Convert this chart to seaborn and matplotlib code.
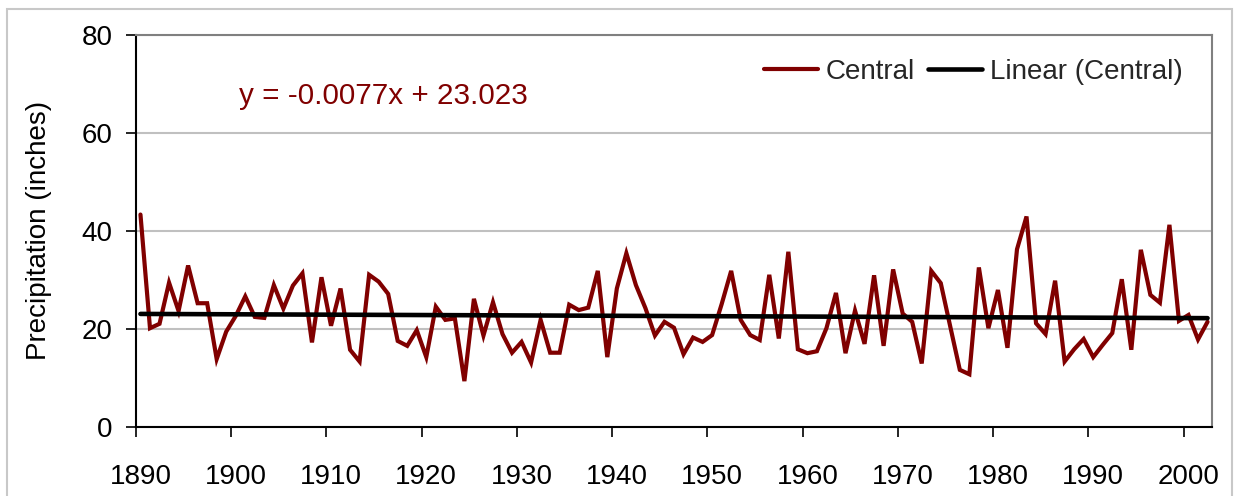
import numpy as np
import pandas as pd
import matplotlib
matplotlib.use("Agg")
import matplotlib.pyplot as plt
import seaborn as sns
from matplotlib.ticker import FixedLocator, NullFormatter, FixedFormatter
from matplotlib.patches import Rectangle

# ---------------- data ----------------
years = list(range(1890, 2003))
central = [
    43.3, 20.1, 21.0, 29.4, 23.6, 32.9, 25.2, 25.2, 13.8, 19.4,   # 1890s
    22.6, 26.6, 22.4, 22.2, 28.9, 24.1, 28.8, 31.3, 17.2, 30.5,   # 1900s
    20.6, 28.2, 15.7, 13.3, 31.0, 29.6, 27.1, 17.5, 16.5, 19.7,   # 1910s
    14.2, 24.5, 21.8, 22.1, 9.3, 26.1, 18.6, 25.4, 18.9, 15.1,    # 1920s
    17.3, 13.1, 21.8, 15.1, 15.1, 24.9, 23.8, 24.3, 31.8, 14.2,   # 1930s
    28.2, 35.4, 28.9, 24.2, 18.6, 21.4, 20.2, 14.8, 18.2, 17.3,   # 1940s
    18.7, 25.0, 31.8, 21.8, 18.7, 17.7, 31.0, 18.0, 35.7, 15.8,   # 1950s
    15.0, 15.4, 20.1, 27.3, 15.0, 23.7, 16.9, 30.9, 16.5, 32.1,   # 1960s
    23.1, 21.4, 12.9, 31.8, 29.3, 20.4, 11.6, 10.7, 32.5, 20.1,   # 1970s
    27.9, 16.1, 36.2, 42.9, 21.1, 18.9, 29.8, 13.3, 15.8, 17.9,   # 1980s
    14.2, 16.7, 19.1, 30.1, 15.7, 36.1, 26.9, 25.3, 41.2, 21.6,   # 1990s
    22.8, 17.8, 21.4,                                             # 2000s
]
trend_slope = -0.0077
trend_intercept = 23.023
equation_text = "y = -0.0077x + 23.023"
series_label = "Central"
trend_label = "Linear (Central)"
y_label = "Precipitation (inches)"
y_ticks = [0, 20, 40, 60, 80]
x_tick_labels = [1890, 1900, 1910, 1920, 1930, 1940, 1950, 1960, 1970, 1980, 1990, 2000]

# Excel trendline uses category index 1..N
idx = np.arange(1, len(years) + 1)
trend = trend_intercept + trend_slope * idx

df = pd.DataFrame({"year": years, "value": central, "trend": trend})

# ---------------- style ----------------
sns.set_theme(style="white")
plt.rcParams["font.family"] = ["Liberation Sans", "DejaVu Sans"]

W, H = 1235, 496
fig = plt.figure(figsize=(W / 100, H / 100), dpi=100)
left, right, top, bottom = 135.7, 1212.3, 34.7, 426.7
ax = fig.add_axes([left / W, 1 - bottom / H, (right - left) / W, (bottom - top) / H])

red = "#800000"
sns.lineplot(data=df, x="year", y="value", ax=ax, color=red, lw=3.0,
             label=series_label, solid_joinstyle="miter")
sns.lineplot(data=df, x="year", y="trend", ax=ax, color="black", lw=3.3,
             label=trend_label)

ax.set_xlim(years[0] - 0.5, years[-1] + 0.5)
ax.set_ylim(y_ticks[0], y_ticks[-1])

# y axis
ax.set_yticks(y_ticks)
ax.set_yticklabels([str(v) for v in y_ticks])
ax.yaxis.grid(True, color="#c0c0c0", lw=1.5)
ax.xaxis.grid(False)
ax.set_axisbelow(True)

# x axis: tick marks at category boundaries, labels at category centres
boundaries = [t - 0.5 for t in x_tick_labels]
ax.xaxis.set_major_locator(FixedLocator(boundaries))
ax.xaxis.set_major_formatter(NullFormatter())
ax.xaxis.set_minor_locator(FixedLocator(x_tick_labels))
ax.xaxis.set_minor_formatter(FixedFormatter([str(t) for t in x_tick_labels]))
ax.tick_params(axis="x", which="major", direction="out", length=7.2, width=1.2,
               color="black", bottom=True)
ax.tick_params(axis="x", which="minor", length=0, pad=26.5, labelsize=20,
               labelcolor="black", bottom=True)
ax.tick_params(axis="y", which="major", direction="out", length=7.2, width=1.2,
               color="black", pad=9.5, labelsize=20, labelcolor="black", left=True)

ax.set_xlabel("")
ax.set_ylabel(y_label, fontsize=20, color="black", labelpad=21)

for side in ["left", "bottom"]:
    ax.spines[side].set_color("black")
    ax.spines[side].set_linewidth(1.5)
for side in ["top", "right"]:
    ax.spines[side].set_color("#808080")
    ax.spines[side].set_linewidth(1.5)
    ax.spines[side].set_visible(True)

# legend
leg = ax.legend(loc="center right", bbox_to_anchor=(1183 / W, 1 - 71.7 / H),
                bbox_transform=fig.transFigure, ncol=2, frameon=False,
                fontsize=20, handlelength=1.95, handletextpad=0.3,
                columnspacing=0.45, borderpad=0, borderaxespad=0)

# trendline equation
fig.text(239 / W, 1 - 104.3 / H, equation_text, color=red, fontsize=21.3,
         ha="left", va="baseline")

# outer chart border
fig.patches.append(Rectangle((7.3 / W, -0.05), (1231.7 - 7.3) / W, 1 - 9 / H + 0.05,
                             transform=fig.transFigure, fill=False,
                             edgecolor="#c8c8c8", lw=1.5))

fig.savefig("out.png", dpi=100)
